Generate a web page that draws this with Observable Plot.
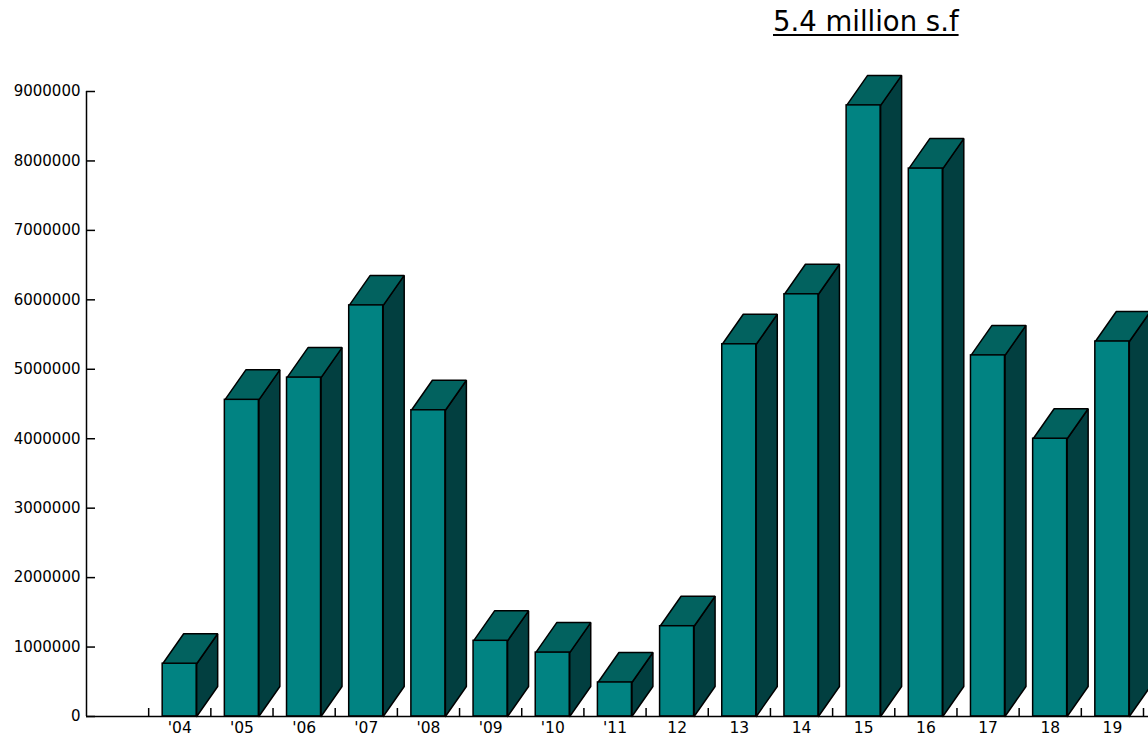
<!DOCTYPE html>
<html><head><meta charset="utf-8">
<script src="https://cdn.jsdelivr.net/npm/d3@7"></script>
<script src="https://cdn.jsdelivr.net/npm/@observablehq/plot@0.6"></script>
<style>
body{margin:0;background:#fff;font-family:"DejaVu Sans",sans-serif;}
#wrap{position:relative;width:1148px;height:740px;overflow:hidden;}
#title{position:absolute;left:773px;top:8px;font-size:27.5px;line-height:1;text-decoration:underline;text-decoration-thickness:2px;text-underline-offset:3px;color:#000;white-space:nowrap;}
</style></head><body>
<div id="wrap"><div id="title"></div></div>
<script>
const years = ["'04","'05","'06","'07","'08","'09","'10","'11","12","13","14","15","16","17","18","19"];
const areaSF = [760000,4560000,4880000,5920000,4410000,1090000,920000,490000,1300000,5360000,6080000,8800000,7890000,5200000,4000000,5400000];
const yTicks = [0,1000000,2000000,3000000,4000000,5000000,6000000,7000000,8000000,9000000];
const titleText = "5.4 million s.f";

document.getElementById("title").textContent = titleText;

const W = 1148, H = 740, mL = 86, mR = 5, mT = 91, mB = 24;
const xDomain = [-1, years.length];
const yDomain = [0, d3.max(yTicks)];
const pxPerX = (W - mL - mR) / (xDomain[1] - xDomain[0]);
const pxPerY = (H - mT - mB) / (yDomain[1] - yDomain[0]);
// 3D depth expressed in pixels, converted to data units
const depthX = 21 / pxPerX, depthY = 30 / pxPerY;
const inset = 14 / pxPerX, barW = 34 / pxPerX;

const data = years.map((y, i) => ({i, year: y, v: areaSF[i], x1: i + inset, x2: i + inset + barW}));
const sideFaces = data.flatMap(d => [
  {i: d.i, x: d.x2, y: 0},
  {i: d.i, x: d.x2, y: d.v},
  {i: d.i, x: d.x2 + depthX, y: d.v + depthY},
  {i: d.i, x: d.x2 + depthX, y: depthY},
  {i: d.i, x: d.x2, y: 0}
]);
const topFaces = data.flatMap(d => [
  {i: d.i, x: d.x1, y: d.v},
  {i: d.i, x: d.x2, y: d.v},
  {i: d.i, x: d.x2 + depthX, y: d.v + depthY},
  {i: d.i, x: d.x1 + depthX, y: d.v + depthY},
  {i: d.i, x: d.x1, y: d.v}
]);
const tickPos = d3.range(0, years.length + 1);
const centers = years.map((_, i) => i + 0.5);

const chart = Plot.plot({
  width: W, height: H,
  marginLeft: mL, marginRight: mR, marginTop: mT, marginBottom: mB,
  style: {fontFamily: "DejaVu Sans", fontSize: "15px", background: "white", color: "black", overflow: "visible"},
  x: {type: "linear", domain: xDomain},
  y: {type: "linear", domain: yDomain},
  marks: [
    Plot.line(sideFaces, {x: "x", y: "y", z: "i", fill: "#023f40", stroke: "black", strokeWidth: 1.5, strokeLinejoin: "miter"}),
    Plot.line(topFaces, {x: "x", y: "y", z: "i", fill: "#02625f", stroke: "black", strokeWidth: 1.5, strokeLinejoin: "miter"}),
    Plot.rect(data, {x1: "x1", x2: "x2", y1: 0, y2: "v", fill: "#018382", stroke: "black", strokeWidth: 1.5}),
    Plot.ruleY([0], {stroke: "black", strokeWidth: 1.5, insetRight: -5}),
    Plot.ruleX([xDomain[0]], {y1: 0, y2: yDomain[1], stroke: "black", strokeWidth: 1.5}),
    Plot.ruleX(tickPos, {x: d => d, y1: 0, y2: 0, insetTop: -8, stroke: "black", strokeWidth: 1.5}),
    Plot.ruleY(yTicks, {y: d => d, x1: xDomain[0], x2: xDomain[0], insetRight: -9, stroke: "black", strokeWidth: 1.5}),
    Plot.axisY(yTicks, {tickSize: 0, tickPadding: 6, fontSize: 15, tickFormat: d => String(d), label: null}),
    Plot.axisX(centers, {tickSize: 0, tickPadding: 5, fontSize: 15.5, tickFormat: v => years[Math.floor(v)], label: null})
  ]
});
document.getElementById("wrap").appendChild(chart);
</script>
</body></html>
